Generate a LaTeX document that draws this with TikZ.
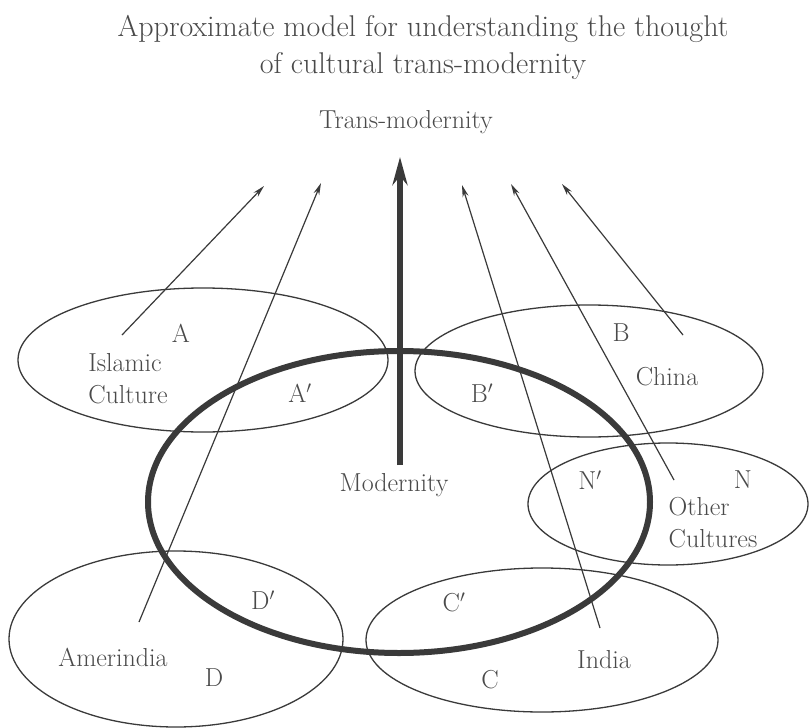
\documentclass[tikz,border=0pt]{standalone}
\usetikzlibrary{arrows.meta,shapes.geometric}
\definecolor{ink}{HTML}{3A3A3A}
\definecolor{txt}{HTML}{4A4A4A}
\begin{document}
\begin{tikzpicture}[x=1pt,y=-1pt,
  lbl/.style={text=txt,font=\fontsize{26}{32}\selectfont,inner sep=0pt},
  ttl/.style={text=txt,font=\fontsize{30}{37}\selectfont,inner sep=0pt,align=center},
  cult/.style={draw=ink,line width=1.3pt,ellipse,inner sep=0pt},
  thin/.style={draw=ink,line width=1.2pt,-{Stealth[length=12pt,width=6pt]}},
  modern/.style={draw=ink,line width=6pt,ellipse,inner sep=0pt}]
\useasboundingbox (0,0) rectangle (809,728);
\fill[white] (0,0) rectangle (809,728);
% title
\node[ttl] (title) at (423,47) {Approximate model for understanding the thought\\of cultural trans-modernity};
\node[lbl] (trans) at (406,122) {Trans-modernity};
% culture ellipses
\node[cult,minimum width=370pt,minimum height=144pt] (islam) at (203,360) {};
\node[cult,minimum width=348pt,minimum height=132pt] (china) at (589,371) {};
\node[cult,minimum width=280pt,minimum height=122pt] (other) at (668,504) {};
\node[cult,minimum width=334pt,minimum height=176pt] (amer) at (176,639) {};
\node[cult,minimum width=352pt,minimum height=144pt] (india) at (542,640) {};
% modernity ellipse
\node[modern,minimum width=502pt,minimum height=302pt] (mod) at (399,502) {};
% labels
\node[lbl] (A) at (181,333) {A};
\node[lbl,align=left] (islamic) at (128,379) {Islamic\\Culture};
\node[lbl] (Ap) at (300,393) {A$'$};
\node[lbl] (B) at (621,333) {B};
\node[lbl] (chinat) at (667,377) {China};
\node[lbl] (Bp) at (482,393) {B$'$};
\node[lbl] (Np) at (590,480) {N$'$};
\node[lbl] (N) at (743,480) {N};
\node[lbl,align=left] (othert) at (713,523) {Other\\Cultures};
\node[lbl] (modt) at (394,485) {Modernity};
\node[lbl] (Dp) at (263,600) {D$'$};
\node[lbl] (amert) at (113,657) {Amerindia};
\node[lbl] (D) at (214,678) {D};
\node[lbl] (Cp) at (454,602) {C$'$};
\node[lbl] (indiat) at (604,660) {India};
\node[lbl] (C) at (490,680) {C};
% arrow coordinates
\coordinate (s1) at (122,335); \coordinate (e1) at (264,186);
\coordinate (s2) at (139,622); \coordinate (e2) at (321,183);
\coordinate (s3) at (600,628); \coordinate (e3) at (462,185);
\coordinate (s4) at (674,480); \coordinate (e4) at (511,184);
\coordinate (s5) at (683,335); \coordinate (e5) at (562,184);
\coordinate (ms) at (400,465); \coordinate (me) at (400,157);
\draw[thin] (s1) -- (e1);
\draw[thin] (s2) -- (e2);
\draw[thin] (s3) -- (e3);
\draw[thin] (s4) -- (e4);
\draw[thin] (s5) -- (e5);
\draw[draw=ink,line width=6pt,-{Stealth[length=28pt,width=15pt]}] (ms) -- (me);
\end{tikzpicture}
\end{document}
